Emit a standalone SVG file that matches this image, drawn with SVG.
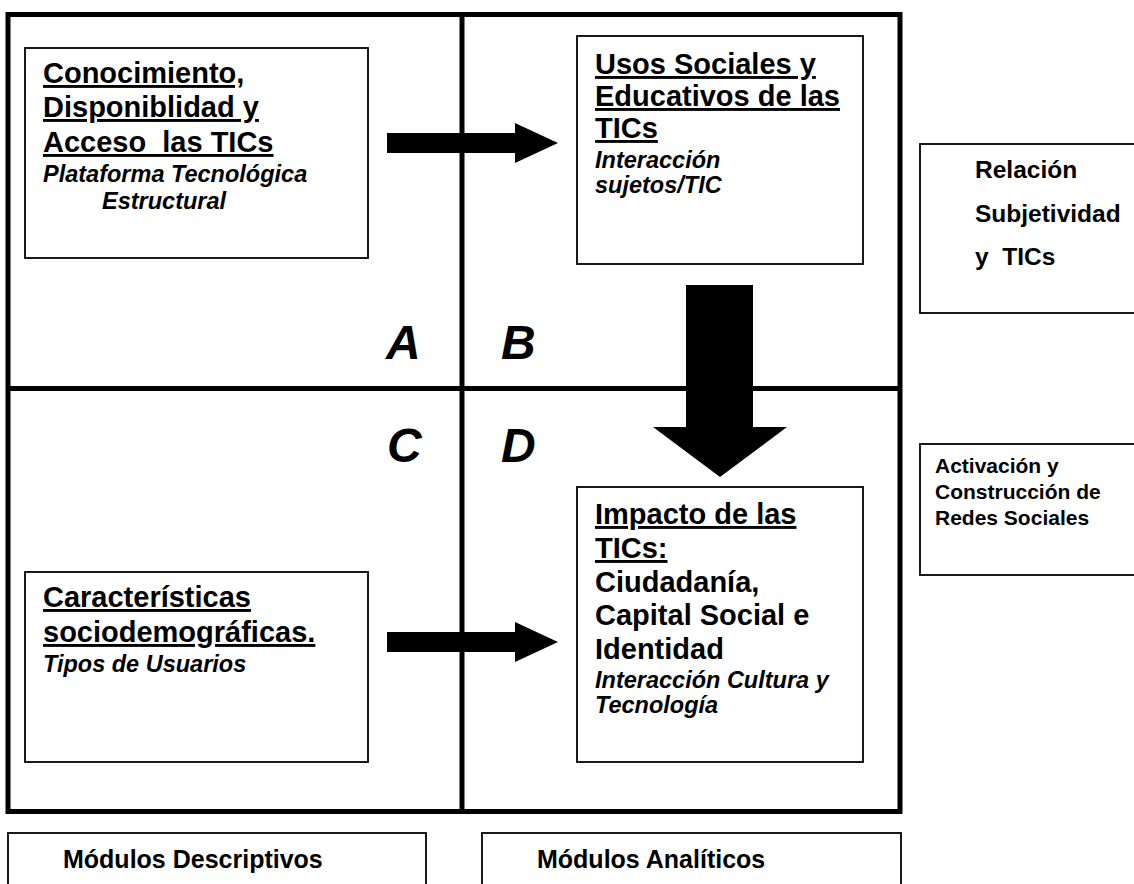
<svg xmlns="http://www.w3.org/2000/svg" width="1134" height="884" viewBox="0 0 1134 884">
<style>
text { font-family: "Liberation Sans", Arial, sans-serif; font-weight: bold; fill: #000; white-space: pre; }
.frame { fill: none; stroke: #000; stroke-width: 5; }
.box { fill: #fff; stroke: #000; stroke-width: 1.8; }
.t { font-size: 29px; }
.u { text-decoration: underline; }
.i { font-size: 23.5px; font-style: italic; }
.q { font-size: 48px; font-style: italic; }
.s { font-size: 21px; }
.r { font-size: 24.5px; }
.m { font-size: 25px; }
.arrow { fill: #000; stroke: none; }
</style>
<rect width="1134" height="884" fill="#fff"/>
<g id="frame">
  <rect class="frame" x="8" y="14.5" width="892" height="797"/>
  <line class="frame" x1="462" y1="14.5" x2="462" y2="811.5"/>
  <line class="frame" x1="8" y1="388.5" x2="900" y2="388.5"/>
</g>
<g id="quadrant-labels">
  <text class="q" x="386" y="359">A</text>
  <text class="q" x="501" y="359">B</text>
  <text class="q" x="387" y="462">C</text>
  <text class="q" x="501" y="462">D</text>
</g>
<g id="node-a">
  <rect class="box" x="25" y="48" width="343" height="210"/>
  <text class="t u" x="43" y="83">Conocimiento,</text>
  <text class="t u" x="43" y="117">Disponiblidad y</text>
  <text class="t u" x="43" y="152">Acceso  las TICs</text>
  <text class="i" x="43" y="182">Plataforma Tecnológica</text>
  <text class="i" x="102" y="209">Estructural</text>
</g>
<g id="node-b">
  <rect class="box" x="577" y="36" width="286" height="228"/>
  <text class="t u" x="595" y="74">Usos Sociales y</text>
  <text class="t u" x="595" y="106">Educativos de las</text>
  <text class="t u" x="595" y="138">TICs</text>
  <text class="i" x="595" y="168">Interacción</text>
  <text class="i" x="595" y="193">sujetos/TIC</text>
</g>
<g id="node-c">
  <rect class="box" x="25" y="572" width="343" height="190"/>
  <text class="t u" x="43" y="607">Características</text>
  <text class="t u" x="43" y="642">sociodemográficas.</text>
  <text class="i" x="43" y="672">Tipos de Usuarios</text>
</g>
<g id="node-d">
  <rect class="box" x="577" y="487" width="286" height="275"/>
  <text class="t u" x="595" y="524">Impacto de las</text>
  <text class="t u" x="595" y="558">TICs:</text>
  <text class="t" x="595" y="592">Ciudadanía,</text>
  <text class="t" x="595" y="625">Capital Social e</text>
  <text class="t" x="595" y="659">Identidad</text>
  <text class="i" x="595" y="688">Interacción Cultura y</text>
  <text class="i" x="595" y="713">Tecnología</text>
</g>
<g id="node-relacion">
  <rect class="box" x="920" y="144" width="230" height="169"/>
  <text class="r" x="975" y="178">Relación</text>
  <text class="r" x="975" y="222">Subjetividad</text>
  <text class="r" x="975" y="265">y  TICs</text>
</g>
<g id="node-redes">
  <rect class="box" x="920" y="444" width="230" height="131"/>
  <text class="s" x="935" y="473">Activación y</text>
  <text class="s" x="935" y="499">Construcción de</text>
  <text class="s" x="935" y="525">Redes Sociales</text>
</g>
<g id="node-descriptivos">
  <rect class="box" x="8" y="833" width="418" height="70"/>
  <text class="m" x="63" y="868">Módulos Descriptivos</text>
</g>
<g id="node-analiticos">
  <rect class="box" x="482" y="833" width="419" height="70"/>
  <text class="m" x="537" y="868">Módulos Analíticos</text>
</g>
<g id="connectors">
  <polygon class="arrow" points="387,133 515,133 515,123 558,143 515,163 515,153 387,153"/>
  <polygon class="arrow" points="387,632 515,632 515,622 558,642 515,662 515,652 387,652"/>
  <polygon class="arrow" points="686,285 753,285 753,427 787,427 720,477 653,427 686,427"/>
</g>
</svg>
